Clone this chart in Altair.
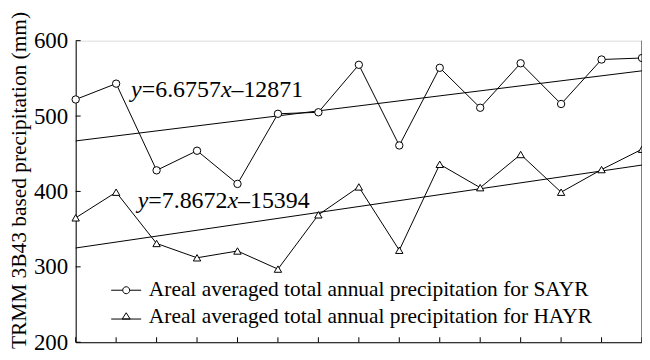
import altair as alt
import pandas as pd

# ---- data ----
years = [1998, 1999, 2000, 2001, 2002, 2003, 2004, 2005, 2006, 2007, 2008, 2009, 2010, 2011, 2012]
sayr = [522, 543, 428, 454, 410, 503, 505, 568, 461, 564, 511, 570, 516, 575, 577]
hayr = [365, 399, 331, 312, 321, 297, 369, 406, 322, 436, 405, 449, 399, 429, 456]
trend_years = [1998, 2012]
sayr_trend = [467, 560]   # y = 6.6757x - 12871
hayr_trend = [325, 435]   # y = 7.8672x - 15394
series_names = [
    "Areal averaged total annual precipitation for SAYR",
    "Areal averaged total annual precipitation for HAYR",
]
y_ticks = [200, 300, 400, 500, 600]
eq_sayr = ["y", "=6.6757", "x", "\u201312871"]
eq_hayr = ["y", "=7.8672", "x", "\u201315394"]

FONT = "Liberation Serif, Times New Roman, Times, serif"
W, H = 569, 303

rows = []
for yr, a, b in zip(years, sayr, hayr):
    rows.append({"year": yr, "value": a, "series": series_names[0]})
    rows.append({"year": yr, "value": b, "series": series_names[1]})
df = pd.DataFrame(rows)

trows = []
for yr, a, b in zip(trend_years, sayr_trend, hayr_trend):
    trows.append({"year": yr, "value": a, "series": series_names[0]})
    trows.append({"year": yr, "value": b, "series": series_names[1]})
tdf = pd.DataFrame(trows)

xscale = alt.Scale(domain=[1998, 2012], nice=False, zero=False)
yscale = alt.Scale(domain=[200, 600], nice=False, zero=False)

x_enc = alt.X("year:Q", scale=xscale,
              axis=alt.Axis(labels=False, ticks=False, title=None, grid=False,
                            domainColor="black", domainWidth=1))
y_enc = alt.Y("value:Q", scale=yscale,
              axis=alt.Axis(values=y_ticks, ticks=False, tickSize=0, grid=False,
                            labelFont=FONT, labelFontSize=23, labelColor="black",
                            labelPadding=8, domainColor="black", domainWidth=1,
                            title="TRMM 3B43 based precipitation (mm)",
                            titleFont=FONT, titleFontSize=21.5, titleFontWeight="normal",
                            titleColor="black", titleAngle=270, titleX=-50, titleY=140,
                            titleAlign="center", titleBaseline="alphabetic"))

base = alt.Chart(df)

lines = base.mark_line(color="black", strokeWidth=1).encode(
    x=x_enc, y=y_enc, detail="series:N")

points = base.mark_point(filled=True, fill="white", stroke="black", strokeWidth=1,
                         size=55, opacity=1).encode(
    x="year:Q", y="value:Q",
    shape=alt.Shape("series:N", scale=alt.Scale(domain=series_names,
                                                 range=["circle", "triangle-up"]),
                    legend=None))

trend = alt.Chart(tdf).mark_line(color="black", strokeWidth=1).encode(
    x="year:Q", y="value:Q", detail="series:N")

# legend carrier (drawn off-canvas and clipped; supplies the legend only)
legend_paths = [
    "M -4.3 0 L -1 0 M 1 0 L 4.3 0 M 1 0 A 1 1 0 1 1 -1 0 A 1 1 0 1 1 1 0",
    "M -4.3 0.7 L 4.3 0.7 M 0 -1.1 L 1.15 0.7 L -1.15 0.7 Z",
]
legend_layer = base.mark_point(filled=False, color="black", clip=True).encode(
    x=alt.value(-200), y=alt.value(-200),
    shape=alt.Shape("series:N",
                    scale=alt.Scale(domain=series_names, range=legend_paths),
                    legend=alt.Legend(title=None, orient="none", legendX=40, legendY=240,
                                      labelFont=FONT, labelFontSize=21.5, labelColor="black",
                                      labelLimit=0, labelOffset=12, symbolSize=49,
                                      symbolStrokeColor="black", symbolFillColor="white",
                                      symbolStrokeWidth=1, symbolOpacity=1,
                                      rowPadding=3.5, padding=0)))

# axis ticks pointing inward
xt = alt.Chart(pd.DataFrame({"year": years})).mark_rule(color="black", strokeWidth=1).encode(
    x="year:Q", y=alt.value(H), y2=alt.value(H - 5))
yt = alt.Chart(pd.DataFrame({"value": y_ticks})).mark_rule(color="black", strokeWidth=1).encode(
    y="value:Q", x=alt.value(0), x2=alt.value(5))
right_border = alt.Chart(pd.DataFrame({"v": [0]})).mark_rule(color="black", strokeWidth=1).encode(
    x=alt.value(W), y=alt.value(0), y2=alt.value(H))

# equations, italic y and x
def equation(parts, x0, y0, size=24):
    ems = []
    for p in parts:
        if p in ("y", "x"):
            ems.append(0.444)
        else:
            w = 0
            for ch in p:
                if ch == ".":
                    w += 0.25
                elif ch == "=":
                    w += 0.564
                else:
                    w += 0.5
            ems.append(w)
    layers = []
    x = x0
    for p, e in zip(parts, ems):
        style = "italic" if p in ("y", "x") else "normal"
        layers.append(
            alt.Chart(pd.DataFrame({"t": [p]})).mark_text(
                font=FONT, fontSize=size, fontStyle=style, color="black",
                align="left", baseline="alphabetic").encode(
                text="t:N", x=alt.value(x), y=alt.value(y0)))
        x += e * size
    return layers

eq_layers = equation(eq_sayr, 55.7, 56.7) + equation(eq_hayr, 62.3, 168.3)

chart = alt.layer(lines, trend, points, legend_layer, xt, yt, right_border, *eq_layers).resolve_scale(
    shape="independent"
).properties(
    width=W, height=H,
    autosize=alt.AutoSizeParams(type="none"),
    padding={"left": 68, "top": 32, "right": 0, "bottom": 9},
).configure_view(stroke=None).configure(background="white")

chart.save("out.html", embed_options={"renderer": "svg", "actions": False})
